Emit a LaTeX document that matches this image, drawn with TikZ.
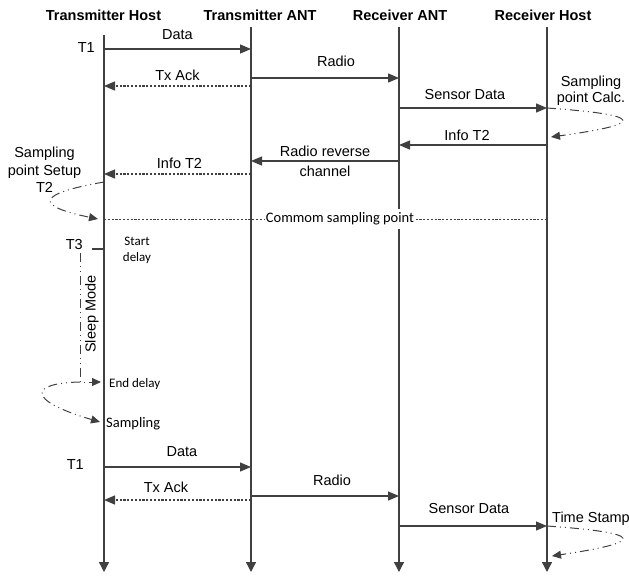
\documentclass[tikz,border=0pt]{standalone}
\usepackage{fontspec}
\setmainfont{Liberation Sans}
\newfontfamily\calibrifont{Carlito}
\usetikzlibrary{arrows.meta,calc}

\definecolor{linegray}{HTML}{404040}

\begin{document}
\begin{tikzpicture}[
    x=1pt, y=-1pt,
    font=\fontsize{14.5}{17}\selectfont,
    head/.style={font=\fontsize{14.5}{17}\selectfont\bfseries, anchor=base, inner sep=0pt},
    life/.style={draw=linegray, line width=1.3pt, -{Triangle[length=10pt,width=10pt]}},
    msg/.style={draw=linegray, line width=1.3pt, -{Triangle[length=11pt,width=9pt]}},
    ack/.style={msg, dash pattern=on 2.2pt off 1.6pt},
    turn/.style={draw=linegray, line width=1pt, dash pattern=on 9pt off 4pt on 1pt off 4pt on 1pt off 4pt},
    turnarr/.style={turn, -{Triangle[length=9pt,width=8pt]}},
    lbl/.style={anchor=base, inner sep=0pt, yshift=#1},
    lbl/.default=8pt,
    tag/.style={anchor=base east, inner sep=0pt},
    note/.style={font=\fontsize{13}{16}\selectfont\calibrifont, inner sep=0pt}
]
\useasboundingbox (0,0) rectangle (629,576);

% lifelines
\node[head] (txhhead) at (103.5,20) {Transmitter Host};
\node[head] (txahead) at (260,20) {Transmitter ANT};
\node[head] (rxahead) at (400,20) {Receiver ANT};
\node[head] (rxhhead) at (543,20) {Receiver Host};

\coordinate (txh) at (104,35);
\coordinate (txa) at (251,27);
\coordinate (rxa) at (399,27);
\coordinate (rxh) at (547,27);
\coordinate (bot) at (0,572);

\foreach \l in {txh,txa,rxa,rxh}
  \draw[life] (\l) -- (\l |- bot);

% message rows
\foreach \n/\y in {r1/49, r2/78, r3/86, r4/108, r5/145, r6/161, r7/174, r8/182,
                   r9/219, r10/249, r13/467, r14/496, r15/500, r16/526}
  \coordinate (\n) at (0,\y);

% first cycle
\node[tag] (t1a) at (95,52) {T1};
\draw[msg] (txh |- r1) -- node[lbl=10pt] {Data} (txa |- r1);
\draw[msg] (txa |- r2) -- node[lbl=12pt, xshift=11pt] {Radio} (rxa |- r2);
\draw[ack] (txa |- r3) -- node[lbl=6pt] {Tx Ack} (txh |- r3);
\draw[msg] (rxa |- r4) -- node[lbl=9pt, xshift=-8pt] {Sensor Data} (rxh |- r4);
\draw[msg] (rxh |- r5) -- node[lbl=5pt, xshift=-6pt] {Info T2} (rxa |- r5);
\draw[msg] (rxa |- r6) -- node[align=center, inner sep=0pt, font=\fontsize{14.5}{20}\selectfont] {Radio reverse\\channel} (txa |- r6);
\draw[ack] (txa |- r7) -- node[lbl=6pt, xshift=2pt] {Info T2} (txh |- r7);

% sampling point calculation
\node[align=center, inner sep=0pt, font=\fontsize{14.5}{16}\selectfont] (calc) at (591,91) {Sampling\\point Calc.};
\coordinate (calcin) at (551,137);
\draw[turnarr] (rxh |- r4) .. controls (646,115) and (646,124) .. (calcin);

% sampling point setup
\node[align=center, inner sep=0pt, font=\fontsize{14.5}{17.3}\selectfont] (setup) at (44.5,170) {Sampling\\point Setup\\T2};
\coordinate (commin) at (98,219);
\draw[turnarr] (txh |- r8) .. controls (35,194) and (35,206) .. (commin);

\draw[draw=linegray, line width=1pt, dash pattern=on 2.2pt off 1.6pt] (rxh |- r9) -- (txh |- r9);
\node[fill=white, inner xsep=1pt, inner ysep=3.5pt, font=\fontsize{14.5}{17}\selectfont\calibrifont] (common) at (340,219) {Commom sampling point};

% sleep phase
\node[tag] (t3) at (83,249) {T3};
\coordinate (t3tick) at (92,249);
\draw[draw=linegray, line width=1.3pt] (t3tick) -- (txh |- r10);
\node[note, align=center] (startdl) at (137,250) {Start\\delay};
\node[anchor=base, inner sep=0pt, rotate=90] (sleep) at (95.5,314) {Sleep Mode};

\coordinate (slp) at (80,253);
\coordinate (enddl) at (101,382);
\coordinate (smpl) at (100,422);
\draw[turnarr] (slp) |- (enddl);
\draw[turnarr] (slp |- enddl) .. controls (30,383) and (25,400) .. (smpl);
\node[note, anchor=base west] (enddltxt) at (109,387) {End delay};
\node[note, anchor=base west, font=\fontsize{14.5}{17}\selectfont\calibrifont] (smpltxt) at (106,427.5) {Sampling};

% second cycle
\node[tag] (t1b) at (84,469) {T1};
\draw[msg] (txh |- r13) -- node[lbl=11pt, xshift=4.5pt] {Data} (txa |- r13);
\draw[msg] (txa |- r14) -- node[lbl=11pt, xshift=7pt] {Radio} (rxa |- r14);
\draw[ack] (txa |- r15) -- node[lbl=8pt, xshift=-11.5pt] {Tx Ack} (txh |- r15);
\draw[msg] (rxa |- r16) -- node[lbl=13pt, xshift=-4pt] {Sensor Data} (rxh |- r16);

\node[anchor=base west, inner sep=0pt] (tstamp) at (552,522) {Time Stamp};
\coordinate (tsin) at (552,556);
\draw[turnarr] (rxh |- r16) .. controls (646,533) and (646,542) .. (tsin);
\end{tikzpicture}
\end{document}
